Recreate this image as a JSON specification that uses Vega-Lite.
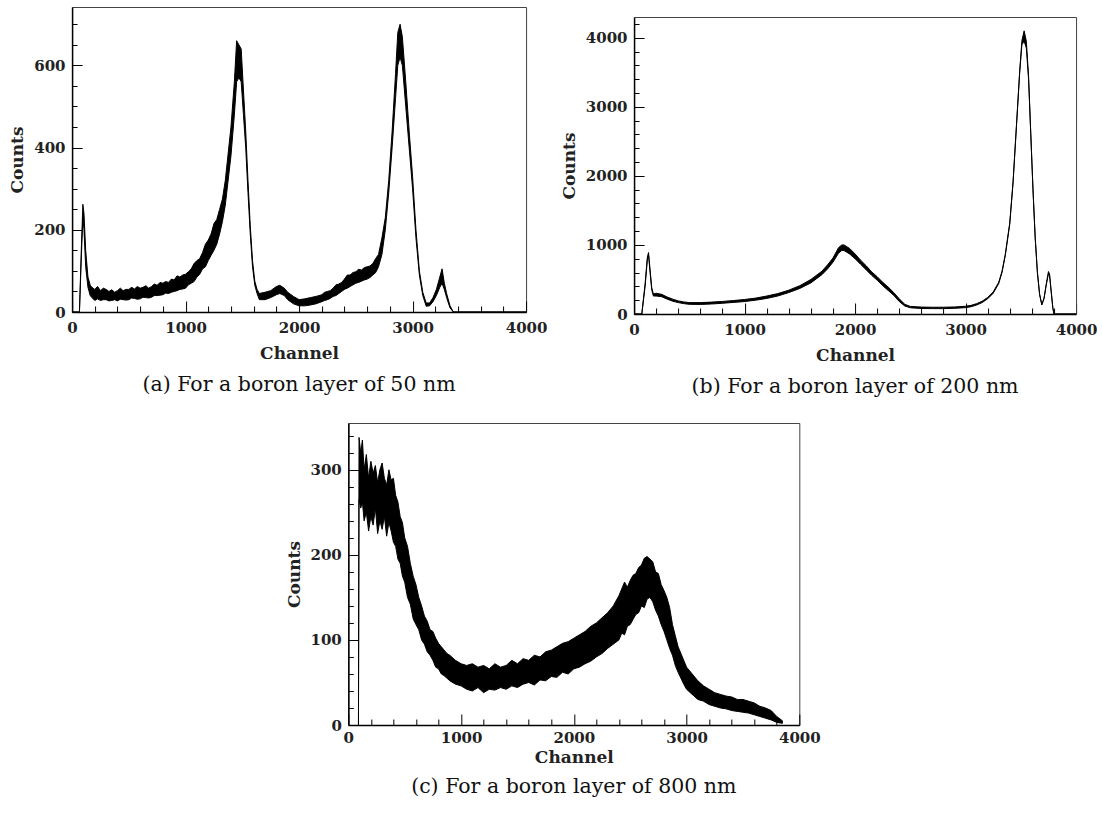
{
  "$schema": "https://vega.github.io/schema/vega-lite/v6.json",
  "padding": {"left": 8, "top": 6, "right": 0, "bottom": 0},
  "background": "white",
  "datasets": {
    "a": [
      {"ch": 0, "lo": 0, "hi": 0}, {"ch": 50, "lo": 0, "hi": 0}, {"ch": 65, "lo": 0, "hi": 0},
      {"ch": 80, "lo": 120, "hi": 140}, {"ch": 95, "lo": 230, "hi": 262}, {"ch": 105, "lo": 200, "hi": 240},
      {"ch": 120, "lo": 110, "hi": 150}, {"ch": 140, "lo": 60, "hi": 85}, {"ch": 160, "lo": 40, "hi": 65},
      {"ch": 175, "lo": 35, "hi": 60}, {"ch": 200, "lo": 28, "hi": 55}, {"ch": 225, "lo": 32, "hi": 62},
      {"ch": 250, "lo": 28, "hi": 52}, {"ch": 275, "lo": 30, "hi": 58}, {"ch": 300, "lo": 30, "hi": 55},
      {"ch": 325, "lo": 27, "hi": 50}, {"ch": 350, "lo": 28, "hi": 54}, {"ch": 375, "lo": 30, "hi": 48},
      {"ch": 400, "lo": 27, "hi": 52}, {"ch": 425, "lo": 31, "hi": 58}, {"ch": 450, "lo": 30, "hi": 52},
      {"ch": 475, "lo": 29, "hi": 55}, {"ch": 500, "lo": 30, "hi": 55}, {"ch": 525, "lo": 34, "hi": 60},
      {"ch": 550, "lo": 33, "hi": 56}, {"ch": 575, "lo": 31, "hi": 62}, {"ch": 600, "lo": 32, "hi": 58},
      {"ch": 625, "lo": 36, "hi": 60}, {"ch": 650, "lo": 35, "hi": 64}, {"ch": 675, "lo": 34, "hi": 58},
      {"ch": 700, "lo": 36, "hi": 62}, {"ch": 725, "lo": 40, "hi": 68}, {"ch": 750, "lo": 40, "hi": 65},
      {"ch": 775, "lo": 41, "hi": 72}, {"ch": 800, "lo": 42, "hi": 70}, {"ch": 825, "lo": 46, "hi": 74},
      {"ch": 850, "lo": 45, "hi": 72}, {"ch": 875, "lo": 48, "hi": 80}, {"ch": 900, "lo": 50, "hi": 78},
      {"ch": 925, "lo": 52, "hi": 88}, {"ch": 950, "lo": 55, "hi": 85}, {"ch": 975, "lo": 56, "hi": 90},
      {"ch": 1000, "lo": 58, "hi": 92}, {"ch": 1025, "lo": 66, "hi": 98}, {"ch": 1050, "lo": 70, "hi": 105},
      {"ch": 1075, "lo": 74, "hi": 118}, {"ch": 1100, "lo": 85, "hi": 125}, {"ch": 1125, "lo": 92, "hi": 130},
      {"ch": 1150, "lo": 105, "hi": 145}, {"ch": 1175, "lo": 110, "hi": 165}, {"ch": 1200, "lo": 125, "hi": 175},
      {"ch": 1225, "lo": 138, "hi": 190}, {"ch": 1250, "lo": 150, "hi": 215}, {"ch": 1275, "lo": 165, "hi": 225},
      {"ch": 1300, "lo": 190, "hi": 250}, {"ch": 1325, "lo": 220, "hi": 275}, {"ch": 1350, "lo": 260, "hi": 320},
      {"ch": 1400, "lo": 380, "hi": 450}, {"ch": 1430, "lo": 480, "hi": 560}, {"ch": 1450, "lo": 560, "hi": 660},
      {"ch": 1470, "lo": 570, "hi": 650}, {"ch": 1490, "lo": 560, "hi": 640}, {"ch": 1510, "lo": 480, "hi": 540},
      {"ch": 1530, "lo": 400, "hi": 440}, {"ch": 1550, "lo": 290, "hi": 320}, {"ch": 1570, "lo": 190, "hi": 210},
      {"ch": 1590, "lo": 110, "hi": 125}, {"ch": 1610, "lo": 65, "hi": 75}, {"ch": 1630, "lo": 45, "hi": 55},
      {"ch": 1650, "lo": 30, "hi": 45}, {"ch": 1700, "lo": 30, "hi": 48}, {"ch": 1750, "lo": 35, "hi": 52},
      {"ch": 1800, "lo": 42, "hi": 62}, {"ch": 1830, "lo": 45, "hi": 65}, {"ch": 1870, "lo": 40, "hi": 58},
      {"ch": 1900, "lo": 30, "hi": 48}, {"ch": 1950, "lo": 20, "hi": 38}, {"ch": 2000, "lo": 15, "hi": 30},
      {"ch": 2050, "lo": 15, "hi": 32}, {"ch": 2100, "lo": 17, "hi": 35}, {"ch": 2150, "lo": 20, "hi": 38},
      {"ch": 2200, "lo": 25, "hi": 42}, {"ch": 2225, "lo": 28, "hi": 48}, {"ch": 2250, "lo": 30, "hi": 50},
      {"ch": 2275, "lo": 33, "hi": 52}, {"ch": 2300, "lo": 38, "hi": 58}, {"ch": 2325, "lo": 40, "hi": 66},
      {"ch": 2350, "lo": 45, "hi": 68}, {"ch": 2375, "lo": 50, "hi": 72}, {"ch": 2400, "lo": 55, "hi": 80},
      {"ch": 2425, "lo": 58, "hi": 90}, {"ch": 2450, "lo": 62, "hi": 90}, {"ch": 2475, "lo": 66, "hi": 96},
      {"ch": 2500, "lo": 70, "hi": 98}, {"ch": 2525, "lo": 72, "hi": 104}, {"ch": 2550, "lo": 75, "hi": 102},
      {"ch": 2575, "lo": 78, "hi": 108}, {"ch": 2600, "lo": 80, "hi": 110}, {"ch": 2625, "lo": 84, "hi": 112},
      {"ch": 2650, "lo": 90, "hi": 118}, {"ch": 2675, "lo": 96, "hi": 130}, {"ch": 2700, "lo": 110, "hi": 140},
      {"ch": 2730, "lo": 140, "hi": 180}, {"ch": 2760, "lo": 200, "hi": 230}, {"ch": 2790, "lo": 290, "hi": 320},
      {"ch": 2820, "lo": 400, "hi": 440}, {"ch": 2850, "lo": 520, "hi": 580}, {"ch": 2870, "lo": 600, "hi": 680},
      {"ch": 2890, "lo": 620, "hi": 700}, {"ch": 2910, "lo": 600, "hi": 670}, {"ch": 2940, "lo": 500, "hi": 560},
      {"ch": 2970, "lo": 400, "hi": 440}, {"ch": 3000, "lo": 300, "hi": 330}, {"ch": 3030, "lo": 180, "hi": 200},
      {"ch": 3060, "lo": 90, "hi": 100}, {"ch": 3090, "lo": 40, "hi": 48}, {"ch": 3120, "lo": 14, "hi": 22},
      {"ch": 3150, "lo": 15, "hi": 22}, {"ch": 3180, "lo": 25, "hi": 35}, {"ch": 3210, "lo": 40, "hi": 55},
      {"ch": 3240, "lo": 60, "hi": 85}, {"ch": 3260, "lo": 70, "hi": 105}, {"ch": 3280, "lo": 55, "hi": 70},
      {"ch": 3300, "lo": 35, "hi": 45}, {"ch": 3330, "lo": 10, "hi": 15}, {"ch": 3360, "lo": 0, "hi": 0},
      {"ch": 4000, "lo": 0, "hi": 0}
    ],
    "b": [
      {"ch": 0, "lo": 0, "hi": 0}, {"ch": 70, "lo": 0, "hi": 0}, {"ch": 100, "lo": 400, "hi": 440},
      {"ch": 120, "lo": 780, "hi": 820}, {"ch": 131, "lo": 850, "hi": 890}, {"ch": 145, "lo": 600, "hi": 640},
      {"ch": 160, "lo": 350, "hi": 380}, {"ch": 175, "lo": 260, "hi": 290}, {"ch": 200, "lo": 260, "hi": 300},
      {"ch": 250, "lo": 250, "hi": 285}, {"ch": 300, "lo": 215, "hi": 245}, {"ch": 350, "lo": 185, "hi": 215},
      {"ch": 400, "lo": 165, "hi": 190}, {"ch": 450, "lo": 150, "hi": 175}, {"ch": 500, "lo": 140, "hi": 165},
      {"ch": 600, "lo": 138, "hi": 165}, {"ch": 700, "lo": 145, "hi": 172}, {"ch": 800, "lo": 155, "hi": 182},
      {"ch": 900, "lo": 168, "hi": 195}, {"ch": 1000, "lo": 180, "hi": 210}, {"ch": 1100, "lo": 200, "hi": 230},
      {"ch": 1200, "lo": 225, "hi": 260}, {"ch": 1300, "lo": 260, "hi": 295}, {"ch": 1400, "lo": 310, "hi": 345},
      {"ch": 1500, "lo": 370, "hi": 410}, {"ch": 1600, "lo": 450, "hi": 500}, {"ch": 1700, "lo": 570, "hi": 620},
      {"ch": 1750, "lo": 650, "hi": 710}, {"ch": 1800, "lo": 750, "hi": 810}, {"ch": 1850, "lo": 880, "hi": 960},
      {"ch": 1880, "lo": 920, "hi": 1000}, {"ch": 1900, "lo": 920, "hi": 1000}, {"ch": 1950, "lo": 870, "hi": 950},
      {"ch": 2000, "lo": 800, "hi": 870}, {"ch": 2050, "lo": 720, "hi": 780}, {"ch": 2100, "lo": 640, "hi": 700},
      {"ch": 2150, "lo": 560, "hi": 610}, {"ch": 2200, "lo": 490, "hi": 540}, {"ch": 2250, "lo": 410, "hi": 460},
      {"ch": 2300, "lo": 340, "hi": 390}, {"ch": 2350, "lo": 270, "hi": 310}, {"ch": 2400, "lo": 180, "hi": 220},
      {"ch": 2450, "lo": 115, "hi": 140}, {"ch": 2500, "lo": 90, "hi": 110}, {"ch": 2600, "lo": 80, "hi": 100},
      {"ch": 2700, "lo": 78, "hi": 98}, {"ch": 2800, "lo": 78, "hi": 98}, {"ch": 2900, "lo": 82, "hi": 102},
      {"ch": 3000, "lo": 92, "hi": 112}, {"ch": 3050, "lo": 105, "hi": 125}, {"ch": 3100, "lo": 130, "hi": 150},
      {"ch": 3150, "lo": 165, "hi": 185}, {"ch": 3200, "lo": 220, "hi": 240}, {"ch": 3250, "lo": 300, "hi": 320},
      {"ch": 3300, "lo": 440, "hi": 460}, {"ch": 3330, "lo": 600, "hi": 620}, {"ch": 3360, "lo": 850, "hi": 870},
      {"ch": 3400, "lo": 1300, "hi": 1320}, {"ch": 3430, "lo": 1900, "hi": 1920}, {"ch": 3460, "lo": 2700, "hi": 2720},
      {"ch": 3490, "lo": 3500, "hi": 3520}, {"ch": 3510, "lo": 3900, "hi": 3960}, {"ch": 3530, "lo": 3950, "hi": 4100},
      {"ch": 3550, "lo": 3850, "hi": 3950}, {"ch": 3570, "lo": 3400, "hi": 3450}, {"ch": 3590, "lo": 2600, "hi": 2630},
      {"ch": 3610, "lo": 1800, "hi": 1820}, {"ch": 3630, "lo": 1100, "hi": 1120}, {"ch": 3650, "lo": 600, "hi": 610},
      {"ch": 3670, "lo": 280, "hi": 290}, {"ch": 3690, "lo": 130, "hi": 140}, {"ch": 3710, "lo": 220, "hi": 230},
      {"ch": 3730, "lo": 420, "hi": 430}, {"ch": 3750, "lo": 580, "hi": 615}, {"ch": 3760, "lo": 560, "hi": 580},
      {"ch": 3775, "lo": 320, "hi": 330}, {"ch": 3790, "lo": 80, "hi": 90}, {"ch": 3800, "lo": 0, "hi": 0},
      {"ch": 4000, "lo": 0, "hi": 0}
    ],
    "c": [
      {"ch": 90, "lo": 0, "hi": 0}, {"ch": 95, "lo": 265, "hi": 338}, {"ch": 110, "lo": 255, "hi": 320},
      {"ch": 125, "lo": 262, "hi": 335}, {"ch": 140, "lo": 240, "hi": 300}, {"ch": 160, "lo": 250, "hi": 318},
      {"ch": 180, "lo": 228, "hi": 290}, {"ch": 200, "lo": 245, "hi": 310}, {"ch": 220, "lo": 235, "hi": 296},
      {"ch": 240, "lo": 255, "hi": 305}, {"ch": 260, "lo": 225, "hi": 285}, {"ch": 280, "lo": 240, "hi": 300},
      {"ch": 300, "lo": 230, "hi": 308}, {"ch": 320, "lo": 245, "hi": 290}, {"ch": 340, "lo": 222, "hi": 282},
      {"ch": 360, "lo": 238, "hi": 300}, {"ch": 380, "lo": 228, "hi": 288}, {"ch": 400, "lo": 215, "hi": 290},
      {"ch": 420, "lo": 210, "hi": 270}, {"ch": 440, "lo": 195, "hi": 262}, {"ch": 460, "lo": 190, "hi": 245},
      {"ch": 480, "lo": 175, "hi": 238}, {"ch": 500, "lo": 168, "hi": 220}, {"ch": 525, "lo": 150, "hi": 210},
      {"ch": 550, "lo": 142, "hi": 190}, {"ch": 575, "lo": 125, "hi": 175}, {"ch": 600, "lo": 118, "hi": 165},
      {"ch": 625, "lo": 112, "hi": 150}, {"ch": 650, "lo": 100, "hi": 140}, {"ch": 675, "lo": 95, "hi": 128},
      {"ch": 700, "lo": 86, "hi": 122}, {"ch": 725, "lo": 82, "hi": 112}, {"ch": 750, "lo": 76, "hi": 110},
      {"ch": 775, "lo": 68, "hi": 102}, {"ch": 800, "lo": 66, "hi": 96}, {"ch": 825, "lo": 60, "hi": 92},
      {"ch": 850, "lo": 58, "hi": 88}, {"ch": 875, "lo": 55, "hi": 84}, {"ch": 900, "lo": 52, "hi": 82},
      {"ch": 950, "lo": 48, "hi": 76}, {"ch": 1000, "lo": 46, "hi": 72}, {"ch": 1050, "lo": 42, "hi": 70},
      {"ch": 1100, "lo": 40, "hi": 72}, {"ch": 1150, "lo": 44, "hi": 68}, {"ch": 1200, "lo": 38, "hi": 70},
      {"ch": 1250, "lo": 42, "hi": 66}, {"ch": 1300, "lo": 41, "hi": 72}, {"ch": 1350, "lo": 44, "hi": 68},
      {"ch": 1400, "lo": 42, "hi": 70}, {"ch": 1450, "lo": 46, "hi": 76}, {"ch": 1500, "lo": 44, "hi": 72},
      {"ch": 1550, "lo": 48, "hi": 78}, {"ch": 1600, "lo": 50, "hi": 76}, {"ch": 1650, "lo": 47, "hi": 82},
      {"ch": 1700, "lo": 53, "hi": 80}, {"ch": 1750, "lo": 52, "hi": 86}, {"ch": 1800, "lo": 57, "hi": 88},
      {"ch": 1850, "lo": 56, "hi": 92}, {"ch": 1900, "lo": 62, "hi": 96}, {"ch": 1950, "lo": 60, "hi": 98},
      {"ch": 2000, "lo": 66, "hi": 102}, {"ch": 2050, "lo": 68, "hi": 106}, {"ch": 2100, "lo": 72, "hi": 110},
      {"ch": 2150, "lo": 75, "hi": 116}, {"ch": 2200, "lo": 80, "hi": 120}, {"ch": 2250, "lo": 84, "hi": 126},
      {"ch": 2300, "lo": 90, "hi": 132}, {"ch": 2350, "lo": 95, "hi": 140}, {"ch": 2400, "lo": 100, "hi": 152},
      {"ch": 2425, "lo": 108, "hi": 160}, {"ch": 2450, "lo": 106, "hi": 168}, {"ch": 2475, "lo": 116, "hi": 162},
      {"ch": 2500, "lo": 118, "hi": 170}, {"ch": 2525, "lo": 124, "hi": 176}, {"ch": 2550, "lo": 130, "hi": 178},
      {"ch": 2575, "lo": 132, "hi": 185}, {"ch": 2600, "lo": 140, "hi": 188}, {"ch": 2625, "lo": 138, "hi": 196},
      {"ch": 2650, "lo": 148, "hi": 198}, {"ch": 2675, "lo": 150, "hi": 195}, {"ch": 2700, "lo": 145, "hi": 192},
      {"ch": 2725, "lo": 135, "hi": 180}, {"ch": 2750, "lo": 128, "hi": 178}, {"ch": 2775, "lo": 118, "hi": 165},
      {"ch": 2800, "lo": 110, "hi": 158}, {"ch": 2825, "lo": 100, "hi": 150}, {"ch": 2850, "lo": 90, "hi": 138},
      {"ch": 2875, "lo": 82, "hi": 118}, {"ch": 2900, "lo": 70, "hi": 105}, {"ch": 2925, "lo": 62, "hi": 92},
      {"ch": 2950, "lo": 55, "hi": 84}, {"ch": 2975, "lo": 48, "hi": 76}, {"ch": 3000, "lo": 42, "hi": 68},
      {"ch": 3050, "lo": 36, "hi": 60}, {"ch": 3100, "lo": 30, "hi": 52}, {"ch": 3150, "lo": 28, "hi": 46},
      {"ch": 3200, "lo": 24, "hi": 42}, {"ch": 3250, "lo": 22, "hi": 38}, {"ch": 3300, "lo": 20, "hi": 36},
      {"ch": 3350, "lo": 19, "hi": 34}, {"ch": 3400, "lo": 17, "hi": 33}, {"ch": 3450, "lo": 16, "hi": 30},
      {"ch": 3500, "lo": 15, "hi": 30}, {"ch": 3550, "lo": 14, "hi": 28}, {"ch": 3600, "lo": 12, "hi": 26},
      {"ch": 3650, "lo": 10, "hi": 22}, {"ch": 3700, "lo": 8, "hi": 20}, {"ch": 3750, "lo": 6, "hi": 17},
      {"ch": 3800, "lo": 3, "hi": 10}, {"ch": 3850, "lo": 2, "hi": 5}
    ]
  },
  "config": {
    "view": {"stroke": "#444", "strokeWidth": 1},
    "axis": {
      "grid": false, "domainColor": "#000", "domainWidth": 1.5, "tickColor": "#000", "tickWidth": 1,
      "labelFont": "DejaVu Serif", "labelFontWeight": "bold", "labelFontSize": 15, "labelColor": "#222",
      "titleFont": "DejaVu Serif", "titleFontWeight": "bold", "titleFontSize": 17, "titleColor": "#222",
      "format": "d"
    },
    "title": {"font": "DejaVu Serif", "fontWeight": "normal", "fontSize": 20.5, "color": "#111"}
  },
  "vconcat": [
    {
      "hconcat": [
        {
          "width": 454, "height": 305,
          "data": {"name": "a"},
          "title": {"text": "(a) For a boron layer of 50 nm", "orient": "bottom", "offset": 14},
          "mark": {"type": "area", "color": "black", "stroke": "black", "strokeWidth": 1, "strokeJoin": "round"},
          "encoding": {
            "x": {"field": "ch", "type": "quantitative", "scale": {"domain": [0, 4000], "nice": false},
              "axis": {"title": "Channel", "format": "d", "values": [0,200,400,600,800,1000,1200,1400,1600,1800,2000,2200,2400,2600,2800,3000,3200,3400,3600,3800,4000],
                "labelExpr": "datum.value % 1000 === 0 ? datum.label : ''",
                "tickSize": {"condition": {"test": "datum.value % 1000 === 0", "value": -11}, "value": -6},
                "labelPadding": 19, "titlePadding": 10, "labelFlush": false}},
            "y": {"field": "lo", "type": "quantitative", "scale": {"domain": [0, 742], "nice": false},
              "axis": {"title": "Counts", "format": "d", "values": [0,50,100,150,200,250,300,350,400,450,500,550,600,650,700],
                "labelExpr": "datum.value % 200 === 0 ? datum.label : ''",
                "tickSize": {"condition": {"test": "datum.value % 200 === 0", "value": -10}, "value": -5},
                "labelPadding": 17, "titlePadding": 7, "labelFlush": false}},
            "y2": {"field": "hi"}
          }
        },
        {
          "width": 442, "height": 307,
          "view": {"stroke": null},
          "data": {"name": "b"},
          "title": {"text": "(b) For a boron layer of 200 nm", "orient": "bottom", "offset": 14},
          "layer": [
            {
              "mark": {"type": "area", "color": "black", "stroke": "black", "strokeWidth": 1, "strokeJoin": "round"},
              "encoding": {
                "x": {"field": "ch", "type": "quantitative", "scale": {"domain": [0, 4000], "nice": false},
                  "axis": {"title": "Channel", "format": "d", "orient": "bottom", "values": [0,200,400,600,800,1000,1200,1400,1600,1800,2000,2200,2400,2600,2800,3000,3200,3400,3600,3800,4000],
                    "labelExpr": "datum.value % 1000 === 0 ? datum.label : ''",
                    "tickSize": {"condition": {"test": "datum.value % 1000 === 0", "value": -11}, "value": -6},
                    "labelPadding": 19, "titlePadding": 10, "labelFlush": false}},
                "y": {"field": "lo", "type": "quantitative", "scale": {"domain": [0, 4300], "nice": false, "range": [307, 10]},
                  "axis": {"title": "Counts", "format": "d", "orient": "left", "values": [0,200,400,600,800,1000,1200,1400,1600,1800,2000,2200,2400,2600,2800,3000,3200,3400,3600,3800,4000,4200],
                    "labelExpr": "datum.value % 1000 === 0 ? datum.label : ''",
                    "tickSize": {"condition": {"test": "datum.value % 1000 === 0", "value": -10}, "value": -5},
                    "labelPadding": 17, "titlePadding": 7, "labelFlush": false}},
                "y2": {"field": "hi"}
              }
            },
            {
              "mark": {"type": "point", "opacity": 0},
              "encoding": {
                "x": {"field": "ch", "type": "quantitative",
                  "axis": {"orient": "top", "offset": -10, "labels": false, "ticks": false, "domainColor": "#444", "domainWidth": 1, "title": null}},
                "y": {"field": "lo", "type": "quantitative",
                  "axis": {"orient": "right", "labels": false, "ticks": false, "domainColor": "#444", "domainWidth": 1, "title": null}}
              }
            }
          ],
          "resolve": {"axis": {"x": "independent", "y": "independent"}}
        }
      ],
      "spacing": 12
    },
    {
      "width": 451, "height": 302,
      "data": {"name": "c"},
      "title": {"text": "(c) For a boron layer of 800 nm", "orient": "bottom", "offset": 12},
      "mark": {"type": "area", "color": "black", "stroke": "black", "strokeWidth": 1, "strokeJoin": "round"},
      "encoding": {
        "x": {"field": "ch", "type": "quantitative", "scale": {"domain": [0, 4000], "nice": false},
          "axis": {"title": "Channel", "format": "d", "values": [0,200,400,600,800,1000,1200,1400,1600,1800,2000,2200,2400,2600,2800,3000,3200,3400,3600,3800,4000],
            "labelExpr": "datum.value % 1000 === 0 ? datum.label : ''",
            "tickSize": {"condition": {"test": "datum.value % 1000 === 0", "value": -11}, "value": -6},
            "labelPadding": 16, "titlePadding": 4, "labelFlush": false}},
        "y": {"field": "lo", "type": "quantitative", "scale": {"domain": [0, 355], "nice": false},
          "axis": {"title": "Counts", "format": "d", "values": [0,20,40,60,80,100,120,140,160,180,200,220,240,260,280,300,320,340],
            "labelExpr": "datum.value % 100 === 0 ? datum.label : ''",
            "tickSize": {"condition": {"test": "datum.value % 100 === 0", "value": -10}, "value": -5},
            "labelPadding": 17, "titlePadding": 7, "labelFlush": false}},
        "y2": {"field": "hi"}
      }
    }
  ],
  "spacing": 24,
  "center": true
}
